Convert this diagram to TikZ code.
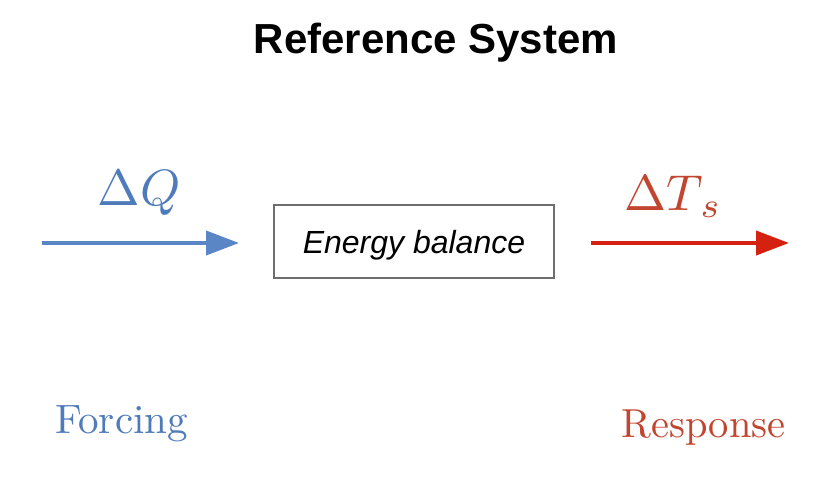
\documentclass[tikz,border=0pt]{standalone}
\usepackage{graphicx}
\usepackage{fontspec}
\newfontfamily\helv{Liberation Sans}
\usetikzlibrary{arrows.meta}
\definecolor{fblue}{HTML}{5A86C6}
\definecolor{tblue}{HTML}{4F7BBB}
\definecolor{fred}{HTML}{D52210}
\definecolor{tred}{HTML}{C2452F}
\definecolor{boxgray}{HTML}{6E6E6E}
\begin{document}
\begin{tikzpicture}[x=1pt,y=-1pt,
  flow/.style={line width=4pt,-{Triangle[length=33pt,width=24pt]}},
  label/.style={anchor=base,inner sep=0pt},
  procbox/.style={draw=boxgray,line width=1.4pt,minimum width=280pt,minimum height=73pt,inner sep=0pt,text depth=0pt,font=\helv\itshape\fontsize{32}{36}\selectfont}]
\useasboundingbox (0,0) rectangle (834,498);
\node[label,font=\helv\bfseries\fontsize{42}{46}\selectfont] (title) at (436,53) {Reference System};
\node[procbox] (box) at (414,241.5) {Energy balance};
\coordinate (qin) at (42,243);
\coordinate (qout) at (239,243);
\coordinate (tin) at (591,243);
\coordinate (tout) at (789,243);
\draw[flow,fblue] (qin) -- (qout);
\draw[flow,fred] (tin) -- (tout);
\node[label,text=tblue] (dq) at (139,205) {\scalebox{5.1}{$\Delta Q$}};
\node[label,text=tred] (dt) at (673,210) {\scalebox{5.05}{$\Delta T_{\!\;s}$}};
\node[label,text=tblue] (forcing) at (121.5,433) {\scalebox{4.1}{Forcing}};
\node[label,text=tred] (response) at (703.5,437) {\scalebox{4.05}{Response}};
\end{tikzpicture}
\end{document}
